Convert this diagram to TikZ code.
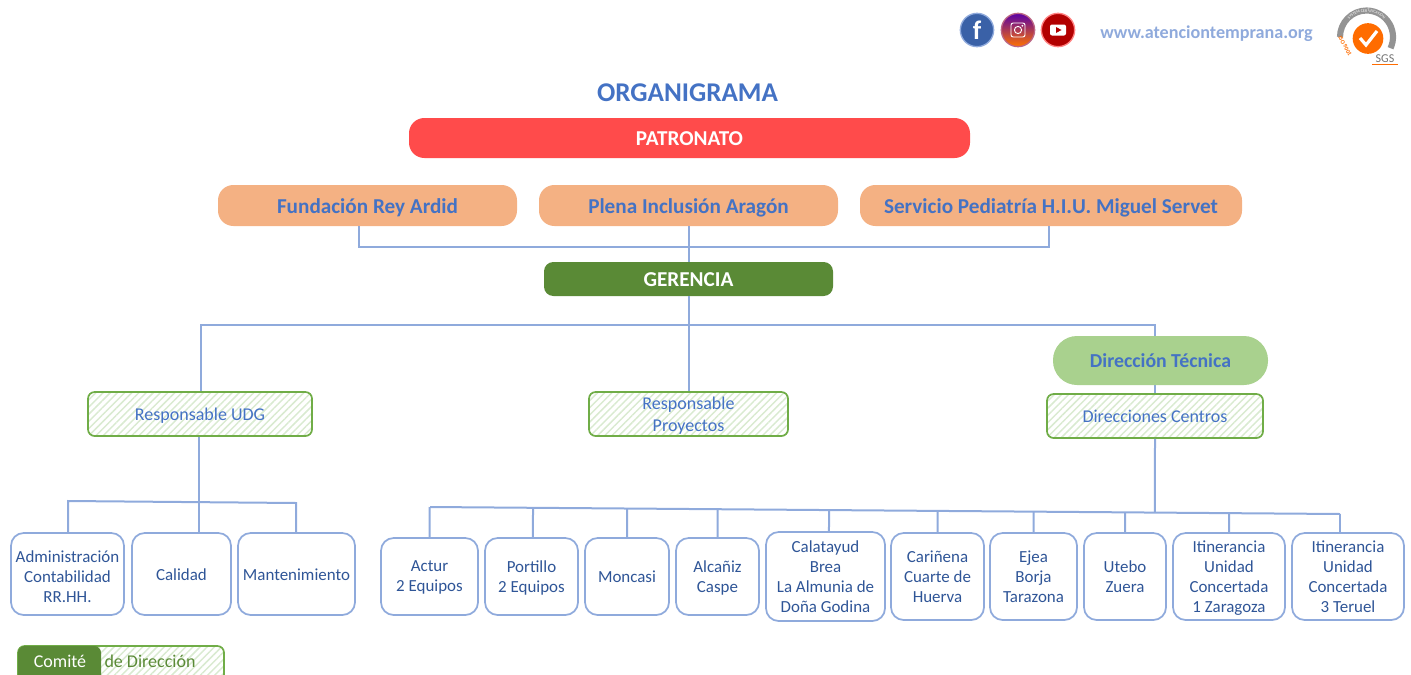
\documentclass[tikz,border=0pt]{standalone}
\usepackage{fontspec}
\setmainfont{Carlito}
\usetikzlibrary{calc,patterns.meta,decorations.text}
\definecolor{conn}{HTML}{8FAADC}
\definecolor{tblue}{HTML}{4472C4}
\definecolor{dblue}{HTML}{2F5597}
\definecolor{peach}{HTML}{F4B183}
\definecolor{redbar}{HTML}{FF4B4B}
\definecolor{dgreen}{HTML}{5A8A36}
\definecolor{lgreen}{HTML}{A9D18E}
\definecolor{mgreen}{HTML}{70AD47}
\definecolor{hatchc}{HTML}{D9EAD0}
\newcommand{\fs}[1]{\fontsize{#1}{#1}\selectfont}
\newcommand{\lw}[1]{\raisebox{-1pt}{#1}}
\tikzset{
  x=0.75pt,y=-0.75pt,
  conline/.style={draw=conn,line width=1.5pt,line join=miter},
  box/.style={inner sep=0pt,align=center,text depth=0pt},
  topbar/.style={box,fill=peach,rounded corners=11.5pt,text=tblue,font=\bfseries\fs{15.9}},
  hatchbox/.style={box,draw=mgreen,line width=1.3pt,rounded corners=5pt,text=tblue,font=\fs{13.5},
    pattern={Lines[angle=45,distance=3.8pt,line width=1.1pt]},pattern color=hatchc},
  unit/.style={box,draw=conn,line width=1.3pt,fill=white,rounded corners=9.5pt,text=dblue,font=\fs{12.7},
    execute at begin node={\baselineskip=15pt}},
}
% name, x1, y1, x2, y2, style, text
\newcommand{\bx}[7]{\node[#6,minimum width={(#4-#2)*0.75pt},minimum height={(#5-#3)*0.75pt}] (#1) at ({(#2+#4)/2},{(#3+#5)/2}) {#7};}
\begin{document}
\begin{tikzpicture}
\useasboundingbox (0,0) rectangle (1411,675);
\coordinate (busL) at (430,507);
\coordinate (busR) at (1340,514);
\coordinate (midL) at (201,325);
\coordinate (midR) at (1155,325);
\coordinate (lowL) at (68,501);
\coordinate (lowR) at (296,503);
\coordinate (patL) at (359,247);
\coordinate (patR) at (1049,247);

\bx{patronato}{409}{118}{970}{158}{box,fill=redbar,rounded corners=11.5pt,text=white,font=\bfseries\fs{15.9}}{\lw{PATRONATO}}
\bx{fund}{218}{185}{517}{226}{topbar}{\lw{Fundación Rey Ardid}}
\bx{plena}{539}{185}{838}{226}{topbar}{\lw{Plena Inclusión Aragón}}
\bx{serv}{860}{185}{1242}{226}{topbar}{\lw{Servicio Pediatría H.I.U. Miguel Servet}}
\bx{udg}{88}{392}{312}{436}{hatchbox}{Responsable UDG}
\bx{proy}{589}{392}{788}{436}{hatchbox}{Responsable\\[3pt]Proyectos}
\bx{centros}{1047}{394}{1263}{438}{hatchbox}{Direcciones Centros}
\bx{adm}{11}{533}{124}{615}{unit}{\rule{0pt}{12.5pt}Administración\\Contabilidad\\RR.HH.}
\bx{cal}{132}{533}{231}{615}{unit}{\lw{Calidad}}
\bx{man}{238}{533}{355}{615}{unit}{\lw{Mantenimiento}}
\bx{actur}{381}{538}{478}{615}{unit}{Actur\\2 Equipos}
\bx{port}{485}{538}{578}{615}{unit}{Portillo\\2 Equipos}
\bx{mon}{585}{538}{669}{615}{unit}{Moncasi}
\bx{alc}{676}{538}{759}{615}{unit}{Alcañiz\\Caspe}
\bx{cala}{766}{532}{885}{621}{unit}{Calatayud\\Brea\\La Almunia de\\Doña Godina}
\bx{cari}{891}{533}{984}{620}{unit}{Cariñena\\Cuarte de\\Huerva}
\bx{ejea}{990}{533}{1077}{620}{unit}{Ejea\\Borja\\Tarazona}
\bx{ute}{1084}{533}{1166}{620}{unit}{Utebo\\Zuera}
\bx{itia}{1173}{533}{1285}{620}{unit}{Itinerancia\\Unidad\\Concertada\\1 Zaragoza}
\bx{itib}{1292}{533}{1404}{620}{unit}{Itinerancia\\Unidad\\Concertada\\3 Teruel}

% connectors
\draw[conline] (fund.south -| patL) -- (patL) -- (patR) -- (serv.south -| patR);
\draw[conline] (plena.south) -- ($(plena.south)+(0,36)$) coordinate (gertop);
\bx{ger}{544}{262}{833}{296}{box,fill=dgreen,rounded corners=7pt,text=white,font=\bfseries\fs{15.9}}{\lw{GERENCIA}}
\draw[conline] (ger.south) -- (proy.north);
\draw[conline] (udg.north -| midL) -- (midL) -- (midR) -- (centros.north -| midR);
\draw[conline] (udg.south -| 199,0) -- (cal.north -| 199,0);
\draw[conline] (adm.north -| lowL) -- (lowL) -- (lowR) -- (man.north -| lowR);
\draw[conline] (busL) -- (busR);
\draw[conline] (centros.south -| midR) -- ($(busL)!(midR |- 0,510)!(busR)$);
\draw[conline] (actur.north) -- ($(busL)!(actur.north)!(busR)$);
\draw[conline] ([xshift=1pt]port.north) -- ($(busL)!([xshift=1pt]port.north)!(busR)$);
\draw[conline] (mon.north) -- ($(busL)!(mon.north)!(busR)$);
\draw[conline] (alc.north) -- ($(busL)!(alc.north)!(busR)$);
\draw[conline] ([xshift=2.6pt]cala.north) -- ($(busL)!([xshift=2.6pt]cala.north)!(busR)$);
\draw[conline] (cari.north) -- ($(busL)!(cari.north)!(busR)$);
\draw[conline] (ejea.north) -- ($(busL)!(ejea.north)!(busR)$);
\draw[conline] (ute.north) -- ($(busL)!(ute.north)!(busR)$);
\draw[conline] (itia.north) -- ($(busL)!(itia.north)!(busR)$);
\draw[conline] ([xshift=-6pt]itib.north) -- (busR);
\bx{tec}{1053}{336}{1268}{385}{box,fill=lgreen,rounded corners=18pt,text=tblue,font=\bfseries\fs{14.85}}{Dirección Técnica}

% title
\node[inner sep=0pt,text=tblue,font=\bfseries\fs{20.3}] (title) at (687.5,93) {ORGANIGRAMA};

% legend
\begin{scope}
\clip (0,640) rectangle (1411,675);
\bx{legend}{18}{646}{224}{682}{hatchbox,text=dgreen}{}
\bx{comite}{18}{646}{101}{682}{box,fill=dgreen,rounded corners=5pt}{}
\end{scope}
\node[inner sep=0pt,text=white,font=\fs{13.5}] (comtxt) at (60,661.5) {Comité};
\node[inner sep=0pt,text=dgreen,font=\fs{13.5}] (dirtxt) at (150,661.5) {de Dirección};

% header: social icons and web address
\node[circle,minimum size=25pt,inner sep=0pt,fill=tblue!85!black,draw=conn,line width=1pt,text=white,font=\bfseries\fs{20}] (fb) at (977,30) {f};
\node[circle,minimum size=25pt,inner sep=0pt,draw=conn!60!red,line width=1pt,
  bottom color=orange!90!red,middle color=red!60!violet,top color=violet!70!blue] (ig) at (1018,30) {};
\draw[white,line width=.7pt,rounded corners=1.6pt] (1011,23) rectangle (1025,37);
\draw[white,line width=.7pt] (ig) circle (3.6);
\fill[white] (1022.3,25.8) circle (1);
\node[circle,minimum size=25pt,inner sep=0pt,fill=red!70!black,draw=red!50,line width=1pt] (yt) at (1058,30) {};
\fill[white,rounded corners=1.5pt] (1050,24.5) rectangle (1066,35.5);
\fill[red!70!black] (1056,27) -- (1056,33) -- (1061.5,30) -- cycle;
\node[inner sep=0pt,text=conn,font=\bfseries\fs{13.6}] (web) at (1206.5,33.5) {www.atenciontemprana.org};

% certification mark
\draw[gray!85,line width=4.6pt] (1340,37) arc[start angle=180,end angle=385,radius=26.5];
\path[decorate,decoration={text along path,text align=center,
  text={|\fontsize{3}{3}\selectfont\color{white}|SYSTEM CERTIFICATION}}]
  (1341.5,37) arc[start angle=180,end angle=360,radius=25];
\node[circle,minimum size=23pt,inner sep=0pt,fill=orange!85!red] (seal) at (1368,38.5) {};
\draw[white,line width=2.4pt] (1360,38) -- (1366,45) -- (1377,31);
\node[rotate=-62,inner sep=0pt,text=orange!85!red,font=\bfseries\fs{4.5}] (iso) at (1345,46) {ISO 9001};
\node[inner sep=0pt,text=gray!90!black,font=\fs{9}] (sgs) at (1385,58.5) {SGS};
\draw[orange!85!red,line width=.5pt] (1372,64) -- (1398,64);
\end{tikzpicture}
\end{document}
